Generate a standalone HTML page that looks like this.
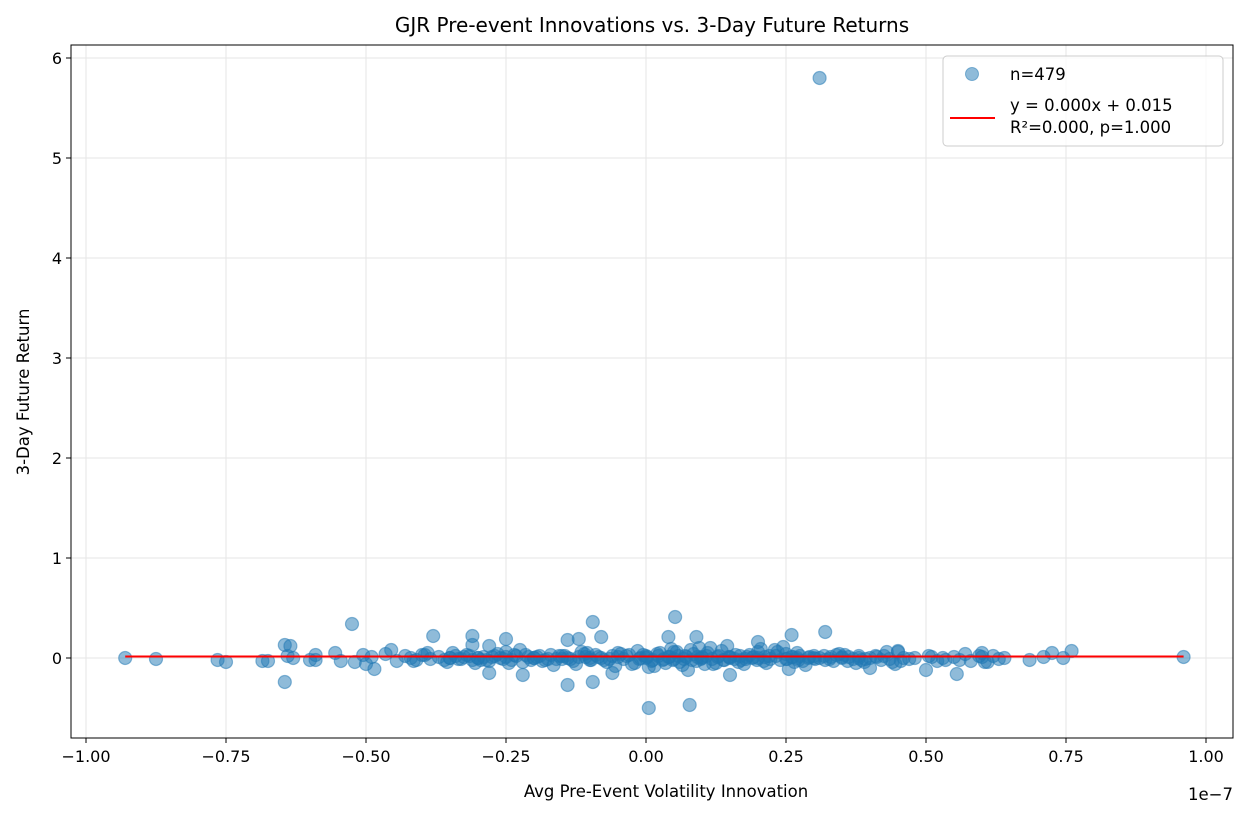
<!DOCTYPE html>
<html><head><meta charset="utf-8">
<style>
html,body{margin:0;padding:0;background:#fff;}
svg{display:block;font-family:"DejaVu Sans","Liberation Sans",sans-serif;}
</style></head>
<body>
<svg id="chart" width="1248" height="817" viewBox="0 0 1248 817" xmlns="http://www.w3.org/2000/svg">
<rect width="1248" height="817" fill="#fff"/>
<g id="grid"></g>
<g id="points"></g>
<g id="fit"></g>
<rect x="71" y="45" width="1162" height="693" fill="none" stroke="#000" stroke-width="1"/>
<g id="xticks"></g>
<g id="yticks"></g>
<text x="652" y="32" text-anchor="middle" font-size="20">GJR Pre-event Innovations vs. 3-Day Future Returns</text>
<text x="666" y="797" text-anchor="middle" font-size="16.5">Avg Pre-Event Volatility Innovation</text>
<text x="1233" y="800" text-anchor="end" font-size="16.5">1e−7</text>
<text transform="translate(29,392) rotate(-90)" text-anchor="middle" font-size="16.5">3-Day Future Return</text>
<g>
<rect x="943" y="56" width="280" height="90" rx="4" fill="#fff" fill-opacity="0.8" stroke="#ccc"/>
<circle cx="972" cy="74" r="6.5" fill="#1f77b4" fill-opacity="0.5" stroke="#1f77b4" stroke-opacity="0.5"/>
<text x="1010" y="80" font-size="16.5">n=479</text>
<line x1="950" y1="118" x2="995" y2="118" stroke="red" stroke-width="2"/>
<text x="1010" y="111" font-size="16.5">y = 0.000x + 0.015</text>
<text x="1010" y="133" font-size="16.5">R²=0.000, p=1.000</text>
</g>
</svg>
<script>
const xTicks = [-1.00,-0.75,-0.50,-0.25,0.00,0.25,0.50,0.75,1.00];
const yTicks = [0,1,2,3,4,5,6];
const fitSlope = 0.000;
const fitIntercept = 0.015;
const outX = [-0.93,-0.875,-0.765,-0.75,-0.685,-0.675,-0.645,-0.635,-0.645,-0.64,-0.63,-0.6,-0.59,-0.59,-0.555,-0.545,-0.525,-0.52,-0.505,-0.5,-0.49,-0.485,-0.465,-0.455,-0.445,-0.38,-0.31,-0.31,-0.28,-0.28,-0.25,-0.22,-0.14,-0.14,-0.12,-0.095,-0.095,-0.08,-0.06,0.005,0.04,0.052,0.078,0.09,0.15,0.2,0.26,0.255,0.31,0.32,0.4,0.45,0.5,0.555,0.6,0.685,0.71,0.725,0.745,0.76,0.96];
const outY = [0,-0.01,-0.02,-0.04,-0.03,-0.03,0.13,0.12,-0.24,0.02,0.0,-0.02,0.03,-0.02,0.05,-0.03,0.34,-0.04,0.03,-0.06,0.01,-0.11,0.04,0.08,-0.03,0.22,0.22,0.13,0.12,-0.15,0.19,-0.17,0.18,-0.27,0.19,0.36,-0.24,0.21,-0.15,-0.5,0.21,0.41,-0.47,0.21,-0.17,0.16,0.23,-0.11,5.8,0.26,-0.1,0.06,-0.12,-0.16,0.05,-0.02,0.01,0.05,0.0,0.07,0.01];
const denseX = [-0.43,-0.42,-0.41,-0.40,-0.39,-0.385,-0.37,-0.36,-0.35,-0.34,-0.33,-0.32,-0.31,-0.30,-0.29,-0.28,-0.27,-0.26,-0.25,-0.24,-0.235,-0.22,-0.21,-0.20,-0.19,-0.18,-0.17,-0.16,-0.15,-0.14,-0.13,-0.12,-0.11,-0.10,-0.09,-0.08,-0.07,-0.06,-0.05,-0.04,-0.03,-0.02,-0.01,0.00,0.01,0.02,0.03,0.04,0.05,0.06,0.07,0.08,0.09,0.10,0.11,0.12,0.13,0.14,0.15,0.16,0.17,0.18,0.19,0.20,0.21,0.22,0.23,0.24,0.25,0.26,0.27,0.28,0.29,0.30,0.31,0.32,0.33,0.34,0.35,0.36,0.37,0.38,0.39,0.40,0.41,0.42,0.43,0.44,0.45,0.46,0.47,0.48,0.51,0.52,0.53,0.55,0.56,0.57,0.58,0.60,0.61,0.62,0.63,0.64,
 -0.415,-0.395,-0.355,-0.325,-0.295,-0.265,-0.245,-0.215,-0.185,-0.155,-0.125,-0.105,-0.075,-0.045,-0.025,-0.005,0.015,0.025,0.035,0.055,0.065,0.085,0.105,0.115,0.125,0.135,0.165,0.185,0.215,0.235,0.265,0.275,0.335,0.355,0.385,0.425,0.455,0.505,0.535,0.595,
 -0.345,-0.305,-0.225,-0.165,-0.115,-0.055,-0.015,0.005,0.045,0.075,0.095,0.145,0.175,0.205,0.245,0.285,0.345,0.375,0.445,0.605];
const denseY = [0.02,0.0,-0.02,0.03,0.05,-0.01,0.01,-0.02,0.0,0.02,-0.01,0.03,-0.02,0.0,0.01,-0.03,0.02,0.0,0.06,-0.02,0.03,-0.04,0.01,0.0,0.02,-0.02,0.03,-0.01,0.02,0.0,-0.03,0.01,0.04,-0.02,0.03,0.0,-0.04,0.02,0.05,-0.01,0.03,-0.05,0.0,0.02,-0.03,0.04,-0.02,0.01,0.06,-0.04,0.02,0.08,-0.03,0.01,0.05,-0.06,0.02,-0.02,0.0,0.03,-0.02,0.01,0.0,0.06,-0.03,0.02,0.08,-0.02,0.04,0.01,0.05,-0.03,0.0,0.02,0.0,-0.02,0.01,0.03,0.0,-0.03,-0.01,0.02,-0.04,0.0,0.02,-0.02,0.06,-0.04,0.07,0.0,-0.01,0.0,0.01,-0.03,0.0,0.01,-0.02,0.04,-0.03,0.01,-0.04,0.02,-0.01,0.0,
 -0.03,0.03,-0.04,0.01,-0.02,0.04,-0.05,0.03,-0.03,0.02,-0.06,0.05,-0.02,0.04,-0.06,0.03,-0.08,0.05,-0.05,0.06,-0.07,0.04,-0.06,0.1,-0.05,0.07,-0.04,0.03,-0.05,0.06,-0.04,0.02,-0.03,0.03,-0.02,0.02,-0.03,0.02,-0.02,0.02,
 0.05,-0.05,0.08,-0.07,0.06,-0.08,0.07,-0.09,0.09,-0.12,0.1,0.12,-0.06,0.09,0.11,-0.07,0.04,-0.05,-0.06,-0.04];
const coreX = [-0.335,-0.315,-0.285,-0.275,-0.255,-0.232,-0.205,-0.195,-0.175,-0.145,-0.135,-0.108,-0.098,-0.085,-0.065,-0.035,-0.012,0.002,0.012,0.022,0.032,0.042,0.048,0.058,0.068,0.072,0.082,0.092,0.098,0.108,0.118,0.128,0.138,0.148,0.158,0.168,0.178,0.192,0.198,0.212,0.222,0.232,0.252,0.262,0.272,0.292,0.302,0.318,0.328,0.362,0.392,0.412,0.435,-0.3,-0.2,-0.1,0.0,0.1,0.2,0.3,-0.25,-0.15,-0.05,0.05,0.15,0.25,0.35,-0.35,0.38,0.27];
const coreY = [-0.01,0.02,-0.02,0.01,-0.01,0.02,-0.02,0.01,-0.01,0.02,-0.01,0.01,-0.02,0.01,-0.01,0.02,-0.01,0.01,-0.02,0.02,-0.01,0.01,-0.02,0.02,-0.01,0.01,-0.02,0.01,-0.01,0.02,-0.01,0.01,-0.02,0.01,-0.01,0.02,-0.01,0.01,-0.02,0.01,-0.01,0.02,-0.01,0.01,-0.02,0.01,-0.01,0.02,-0.01,0.01,-0.01,0.01,-0.01,0.0,0.0,0.0,0.0,0.0,0.0,0.0,0.01,-0.01,0.01,-0.01,0.01,-0.01,0.01,0.0,0.0,0.0];

const NS='http://www.w3.org/2000/svg';
const X0=71,X1=1233,Y0=45,Y1=738;
function sx(v){return 646+v*560;}
function sy(v){return 658-v*100;}
function mk(tag,attrs,parent){const e=document.createElementNS(NS,tag);for(const k in attrs)e.setAttribute(k,attrs[k]);parent.appendChild(e);return e;}
const grid=document.getElementById('grid'),xt=document.getElementById('xticks'),yt=document.getElementById('yticks');
xTicks.forEach(t=>{
  const x=sx(t);
  const g=mk('line',{x1:x,x2:x,y1:Y0,y2:Y1,stroke:'#e6e6e6','stroke-width':1},grid);
  
  
  mk('line',{x1:x,x2:x,y1:Y1,y2:Y1+5,stroke:'#000'},xt);
  const tx=mk('text',{x:x,y:Y1+24,'text-anchor':'middle','font-size':16},xt);
  
  
  tx.textContent=(t<0?'−':'')+Math.abs(t).toFixed(2);
});
yTicks.forEach(t=>{
  const y=sy(t);
  const g=mk('line',{x1:X0,x2:X1,y1:y,y2:y,stroke:'#e6e6e6','stroke-width':1},grid);
  
  
  mk('line',{x1:X0-5,x2:X0,y1:y,y2:y,stroke:'#000'},yt);
  const tx=mk('text',{x:X0-9,y:y+6,'text-anchor':'end','font-size':16},yt);
  
  
  tx.textContent=String(t);
});
const pts=document.getElementById('points');
function plot(xs,ys){xs.forEach((v,i)=>{
  const c=mk('circle',{cx:sx(v),cy:sy(ys[i]),r:6.5,fill:'#1f77b4','fill-opacity':0.5,stroke:'#1f77b4','stroke-opacity':0.5,'stroke-width':1.2},pts);
  
  
});}
plot(denseX,denseY);plot(coreX,coreY);plot(outX,outY);
const xmin=Math.min(...outX,...denseX),xmax=Math.max(...outX,...denseX);
const fl=mk('line',{x1:sx(xmin),x2:sx(xmax),y1:sy(fitSlope*xmin+fitIntercept),y2:sy(fitSlope*xmax+fitIntercept),stroke:'red','stroke-width':2},document.getElementById('fit'));


</script>
</body></html>
